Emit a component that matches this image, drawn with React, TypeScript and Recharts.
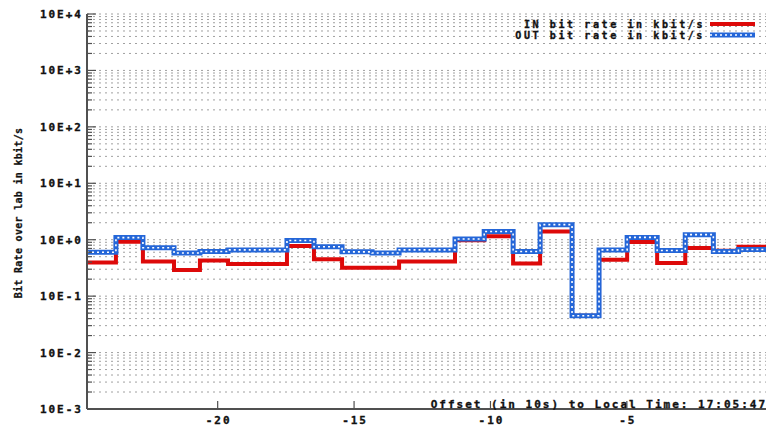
import React from 'react';
import { LineChart, Line, XAxis, YAxis, CartesianGrid, Legend } from 'recharts';

// Sample start offsets (in units of 10 s) and per-sample bit rates (kbit/s)
const offsets = [
  -24.79, -23.73, -22.74, -21.6, -20.65, -19.62, -17.46, -16.47, -15.44, -14.34, -13.35,
  -11.3, -10.23, -9.17, -8.18, -7.01, -6.02, -4.99, -3.89, -2.86, -1.83, -0.91,
];
const inRate = [
  0.395, 0.92, 0.41, 0.29, 0.43, 0.37, 0.77, 0.45, 0.32, 0.32, 0.41,
  0.98, 1.15, 0.38, 1.4, 0.045, 0.44, 0.91, 0.385, 0.71, 0.64, 0.75,
];
const outRate = [
  0.6, 1.09, 0.72, 0.58, 0.62, 0.66, 0.97, 0.75, 0.61, 0.58, 0.66,
  1.03, 1.4, 0.62, 1.85, 0.045, 0.66, 1.1, 0.645, 1.23, 0.62, 0.67,
];

const xTicks = [-20, -15, -10, -5];
const xDomain: [number, number] = [-24.79, 0.1];
const decades = [-3, -2, -1, 0, 1, 2, 3, 4];
const yDomain: [number, number] = [1e-3, 1e4];

const titleX = 'Offset (in 10s) to Local Time: 17:05:47';
const titleY = 'Bit Rate over lab in kbit/s';
const legendIn = 'IN bit rate in kbit/s';
const legendOut = 'OUT bit rate in kbit/s';

const RED = '#dd0a0a';
const BLUE = '#2466d8';
const BORDER = '#505050';
const FONT = '"DejaVu Sans Mono", "Liberation Mono", monospace';

// every 1..9 x 10^d inside the log range
const yTicks: number[] = [];
for (const d of decades) {
  for (let k = 1; k <= 9; k++) {
    const v = k * Math.pow(10, d);
    if (v <= yDomain[1] * 1.000001) yTicks.push(v);
  }
}

const isMajor = (v: number) => {
  const l = Math.log10(v);
  return Math.abs(l - Math.round(l)) < 1e-6;
};
const expLabel = (v: number) => {
  const e = Math.round(Math.log10(v));
  return `10E${e >= 0 ? '+' : '-'}${Math.abs(e)}`;
};

const data = offsets.map((t, i) => ({ t, in: inRate[i], out: outRate[i] }));
// the last sample's step runs to the end of the axis
data.push({ t: xDomain[1], in: inRate[inRate.length - 1], out: outRate[outRate.length - 1] });

const textStyle = {
  fontFamily: FONT,
  fontWeight: 700,
  fontSize: 11,
  letterSpacing: 2,
  fill: '#111',
  stroke: '#111',
  strokeWidth: 0.35,
};
const legendText = { ...textStyle, fontSize: 10, letterSpacing: 2.6 };

const LeftTick = (props: any) => {
  const { x, y, payload } = props;
  const v = payload.value as number;
  const major = isMajor(v);
  return (
    <g>
      <line x1={x} x2={x + (major ? 9 : 5)} y1={y} y2={y} stroke={BORDER} strokeWidth={1.2} />
      {major && (
        <text x={x - 4} y={y + 4} textAnchor="end" style={textStyle}>
          {expLabel(v)}
        </text>
      )}
    </g>
  );
};

const RightTick = (props: any) => {
  const { x, y, payload } = props;
  const major = isMajor(payload.value as number);
  return <line x1={x} x2={x - (major ? 9 : 5)} y1={y} y2={y} stroke={BORDER} strokeWidth={1.2} />;
};

const BottomTick = (props: any) => {
  const { x, y, payload } = props;
  return (
    <g>
      <line x1={x} x2={x} y1={y} y2={y - 8} stroke={BORDER} strokeWidth={1.2} />
      <text x={x + 1} y={y + 15} textAnchor="middle" style={textStyle}>
        {String(payload.value)}
      </text>
    </g>
  );
};

const TopTick = (props: any) => {
  const { x, y } = props;
  return <line x1={x} x2={x} y1={y} y2={y + 8} stroke={BORDER} strokeWidth={1.2} />;
};

const XTitle = (props: any) => {
  const vb = props.viewBox || {};
  return (
    <text x={vb.x + vb.width + 1} y={vb.y - 1} textAnchor="end" style={textStyle}>
      {titleX}
    </text>
  );
};

const YTitle = () => (
  <text
    x={0}
    y={0}
    transform="translate(22 213) rotate(-90)"
    textAnchor="middle"
    style={{ ...textStyle, fontSize: 10, letterSpacing: 0.3, strokeWidth: 0.25 }}
  >
    {titleY}
  </text>
);

const LegendBox = () => (
  <svg width={367} height={44} style={{ display: 'block' }}>
    <text x={305} y={27.5} textAnchor="end" style={legendText}>
      {legendIn}
    </text>
    <line x1={310} x2={355} y1={24} y2={24} stroke={RED} strokeWidth={4} />
    <text x={305} y={38.5} textAnchor="end" style={legendText}>
      {legendOut}
    </text>
    <line x1={310} x2={355} y1={35} y2={35} stroke={BLUE} strokeWidth={5} />
    <line x1={310} x2={355} y1={35} y2={35} stroke="#fff" strokeWidth={1.6} strokeDasharray="2 3" />
  </svg>
);

export default function App() {
  return (
    <div style={{ position: 'absolute', left: 0, top: 0, width: 767, height: 426, background: '#fff' }}>
      <LineChart width={767} height={426} data={data} margin={{ top: 14, right: 1, left: 8, bottom: 0 }}>
        <CartesianGrid vertical={false} stroke="#a0a0a0" strokeDasharray="2 4" strokeWidth={1} />
        <XAxis
          dataKey="t"
          type="number"
          domain={xDomain}
          ticks={xTicks}
          allowDataOverflow
          height={17}
          tickSize={0}
          tickMargin={0}
          tick={<BottomTick />}
          axisLine={{ stroke: BORDER, strokeWidth: 2 }}
          label={<XTitle />}
        />
        <XAxis
          xAxisId="top"
          orientation="top"
          dataKey="t"
          type="number"
          domain={xDomain}
          ticks={xTicks}
          allowDataOverflow
          height={0}
          tickSize={0}
          tickMargin={0}
          tick={<TopTick />}
          axisLine={{ stroke: BORDER, strokeWidth: 2 }}
        />
        <YAxis
          scale="log"
          domain={yDomain}
          ticks={yTicks}
          allowDataOverflow
          width={79}
          tickSize={0}
          tickMargin={0}
          tick={<LeftTick />}
          interval={0}
          axisLine={{ stroke: BORDER, strokeWidth: 2 }}
          label={<YTitle />}
        />
        <YAxis
          yAxisId="right"
          orientation="right"
          scale="log"
          domain={yDomain}
          ticks={yTicks}
          allowDataOverflow
          width={0}
          tickSize={0}
          tickMargin={0}
          tick={<RightTick />}
          interval={0}
          axisLine={{ stroke: BORDER, strokeWidth: 2 }}
        />
        <Legend
          layout="horizontal"
          verticalAlign="middle"
          align="center"
          wrapperStyle={{ top: 0, left: 400, width: 367, height: 44 }}
          content={() => <LegendBox />}
        />
        <Line
          type="stepAfter"
          dataKey="in"
          stroke={RED}
          strokeWidth={4}
          strokeLinejoin="miter"
          dot={false}
          activeDot={false}
          isAnimationActive={false}
          legendType="none"
        />
        <Line
          type="stepAfter"
          dataKey="out"
          stroke={BLUE}
          strokeWidth={5}
          strokeLinejoin="miter"
          dot={false}
          activeDot={false}
          isAnimationActive={false}
          legendType="none"
        />
        <Line
          type="stepAfter"
          dataKey="out"
          stroke="#ffffff"
          strokeWidth={1.6}
          strokeDasharray="2 3"
          dot={false}
          activeDot={false}
          isAnimationActive={false}
          legendType="none"
        />
      </LineChart>
    </div>
  );
}
